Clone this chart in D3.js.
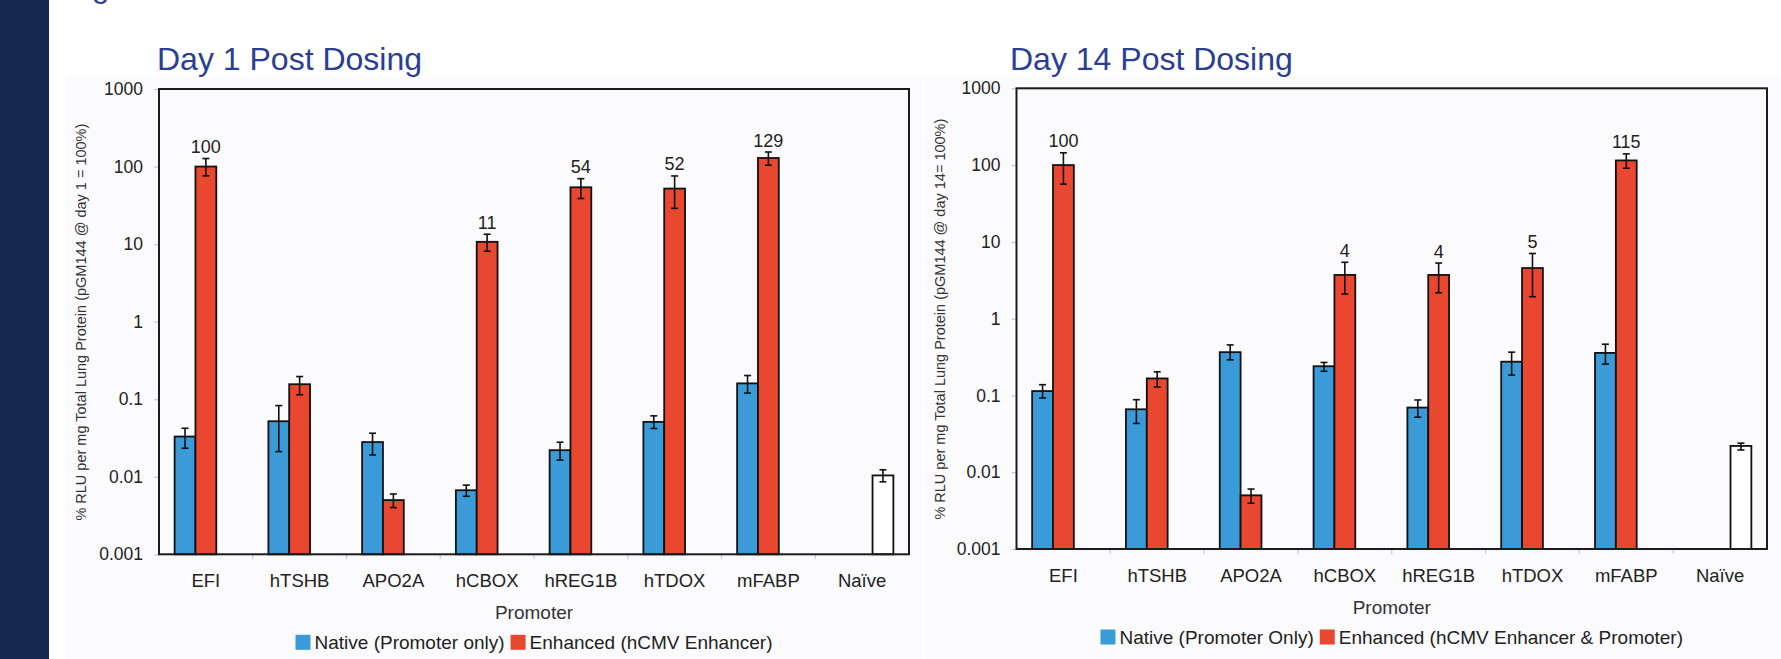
<!DOCTYPE html>
<html><head><meta charset="utf-8">
<script src="https://cdn.jsdelivr.net/npm/d3@7"></script>
<style>
body{margin:0;background:#fff;}
svg{display:block;font-family:"Liberation Sans",Arial,Helvetica,sans-serif;}
</style>
</head><body>
<svg id="c" width="1781" height="659"></svg>
<script>
// ---------- data ----------
const categories = ["EFI","hTSHB","APO2A","hCBOX","hREG1B","hTDOX","mFABP","Naïve"];
const yTickValues = [0.001,0.01,0.1,1,10,100,1000];
const yTickLabels = ["0.001","0.01","0.1","1","10","100","1000"];

// Day 1
const day1Native     = [0.033, 0.052, 0.028, 0.0067, 0.022, 0.051, 0.16, null];
const day1NativeLo   = [0.0233, 0.0211, 0.0191, 0.0056, 0.0164, 0.0419, 0.120, null];
const day1NativeHi   = [0.0422, 0.0827, 0.0364, 0.0078, 0.0279, 0.061, 0.202, null];
const day1Enhanced   = [100, 0.156, 0.005, 10.7, 54, 52, 129, null];
const day1EnhancedLo = [75.8, 0.114, 0.0040, 8.1, 38.7, 28.9, 104, null];
const day1EnhancedHi = [126.9, 0.196, 0.0060, 13.4, 69.8, 75.6, 154, null];
const day1Naive      = [null, null, null, null, null, null, null, 0.0104];
const day1NaiveLo    = [null, null, null, null, null, null, null, 0.0086];
const day1NaiveHi    = [null, null, null, null, null, null, null, 0.0123];
const day1Labels     = ["100", null, null, "11", "54", "52", "129", null];

// Day 14
const day14Native     = [0.114, 0.066, 0.366, 0.240, 0.0695, 0.275, 0.358, null];
const day14NativeLo   = [0.0925, 0.0432, 0.291, 0.2065, 0.0521, 0.184, 0.256, null];
const day14NativeHi   = [0.138, 0.088, 0.455, 0.269, 0.0873, 0.366, 0.465, null];
const day14Enhanced   = [100, 0.1665, 0.005, 3.71, 3.71, 4.56, 115, null];
const day14EnhancedLo = [56.5, 0.1286, 0.00395, 2.09, 2.17, 1.93, 91, null];
const day14EnhancedHi = [144.6, 0.203, 0.00604, 5.42, 5.30, 7.06, 140, null];
const day14Naive      = [null, null, null, null, null, null, null, 0.022];
const day14NaiveLo    = [null, null, null, null, null, null, null, 0.0195];
const day14NaiveHi    = [null, null, null, null, null, null, null, 0.0239];
const day14Labels     = ["100", null, null, "4", "4", "5", "115", null];

const titles = ["Day 1 Post Dosing", "Day 14 Post Dosing"];
const yTitles = ["% RLU per mg Total Lung Protein (pGM144 @ day 1 = 100%)",
                 "% RLU per mg Total Lung Protein (pGM144 @ day 14= 100%)"];
const xTitle = "Promoter";
const legendNames = [["Native (Promoter only)", "Enhanced (hCMV Enhancer)"],
                     ["Native (Promoter Only)", "Enhanced (hCMV Enhancer & Promoter)"]];

// ---------- styling ----------
const BLUE = "#3a9bd8", RED = "#e9472f", TITLE = "#2a3e94";
const svg = d3.select("#c");

// left dark band
svg.append("rect").attr("x",0).attr("y",0).attr("width",49).attr("height",659).attr("fill","#15284f");
// cut-off heading glyph at the top
svg.append("text").attr("x",92).attr("y",-3).attr("font-size",31).attr("fill",TITLE).text("g");

// faint chart-area backgrounds
svg.append("rect").attr("x",66).attr("y",76).attr("width",856).attr("height",583).attr("fill","#fbfbfd");
svg.append("rect").attr("x",924).attr("y",76).attr("width",857).attr("height",583).attr("fill","#fbfbfd");

const panels = [
  {x0:159, x1:909, y0:89, y1:554.3, titleX:157, yTitleX:81,
   native:day1Native, nLo:day1NativeLo, nHi:day1NativeHi,
   enh:day1Enhanced, eLo:day1EnhancedLo, eHi:day1EnhancedHi,
   naive:day1Naive, vLo:day1NaiveLo, vHi:day1NaiveHi, labels:day1Labels},
  {x0:1016.5, x1:1767, y0:88.3, y1:549, titleX:1010, yTitleX:939.5,
   native:day14Native, nLo:day14NativeLo, nHi:day14NativeHi,
   enh:day14Enhanced, eLo:day14EnhancedLo, eHi:day14EnhancedHi,
   naive:day14Naive, vLo:day14NaiveLo, vHi:day14NaiveHi, labels:day14Labels}
];

panels.forEach((p, pi) => {
  const g = svg.append("g");
  const x = d3.scaleBand().domain(categories).range([p.x0, p.x1]).paddingInner(0).paddingOuter(0);
  const xs = d3.scaleBand().domain([0,1,2]).range([0, x.bandwidth()]).paddingInner(0).paddingOuter(0.75);
  const y = d3.scaleLog().domain([0.001, 1000]).range([p.y1, p.y0]);

  // title
  g.append("text").attr("x", p.titleX).attr("y", 69.5).attr("font-size", 32)
    .attr("fill", TITLE).text(titles[pi]);

  // y axis ticks + labels
  const yAxis = d3.axisLeft(y).tickValues(yTickValues)
    .tickFormat((d,i) => yTickLabels[i]).tickSize(5).tickPadding(11);
  const ya = g.append("g").attr("transform", `translate(${p.x0},0)`).call(yAxis);
  ya.select(".domain").remove();
  ya.selectAll(".tick line").attr("stroke", "#b9cde0").attr("stroke-width", 1.2);
  ya.selectAll(".tick text").attr("font-size", 17.5).attr("fill", "#222")
    .attr("font-family", '"Liberation Sans",Arial,sans-serif');

  // x axis labels
  const xAxis = d3.axisBottom(x).tickSize(0).tickPadding(20);
  const xa = g.append("g").attr("transform", `translate(0,${p.y1})`).call(xAxis);
  xa.select(".domain").remove();
  xa.selectAll(".tick text").attr("font-size", 18.5).attr("fill", "#222")
    .attr("font-family", '"Liberation Sans",Arial,sans-serif');

  // category boundary ticks
  g.selectAll(".bt").data(categories.slice(1)).enter().append("line")
    .attr("x1", d => x(d)).attr("x2", d => x(d))
    .attr("y1", p.y1).attr("y2", p.y1 + 5)
    .attr("stroke", "#b9cde0").attr("stroke-width", 1.2);

  // bars
  const series = [
    {vals:p.native, lo:p.nLo, hi:p.nHi, fill:BLUE},
    {vals:p.enh, lo:p.eLo, hi:p.eHi, fill:RED},
    {vals:p.naive, lo:p.vLo, hi:p.vHi, fill:"#ffffff"}
  ];
  series.forEach((s, si) => {
    const data = categories.map((c, i) => ({c, v:s.vals[i], lo:s.lo[i], hi:s.hi[i]})).filter(d => d.v != null);
    g.selectAll(null).data(data).enter().append("rect")
      .attr("x", d => x(d.c) + xs(si)).attr("width", xs.bandwidth())
      .attr("y", d => y(d.v)).attr("height", d => y(0.001) - y(d.v))
      .attr("fill", s.fill).attr("stroke", "#111").attr("stroke-width", 1.8);
    const eb = g.selectAll(null).data(data).enter().append("g")
      .attr("stroke", "#111").attr("stroke-width", 1.6);
    const cx = d => x(d.c) + xs(si) + xs.bandwidth()/2;
    eb.append("line").attr("x1", cx).attr("x2", cx).attr("y1", d => y(d.lo)).attr("y2", d => y(d.hi));
    eb.append("line").attr("x1", d => cx(d)-3.5).attr("x2", d => cx(d)+3.5).attr("y1", d => y(d.hi)).attr("y2", d => y(d.hi));
    eb.append("line").attr("x1", d => cx(d)-3.5).attr("x2", d => cx(d)+3.5).attr("y1", d => y(d.lo)).attr("y2", d => y(d.lo));
  });

  // value labels above enhanced bars
  const lab = categories.map((c,i) => ({c, t:p.labels[i], hi:p.eHi[i]})).filter(d => d.t);
  g.selectAll(null).data(lab).enter().append("text")
    .attr("x", d => x(d.c) + xs(1) + xs.bandwidth()/2)
    .attr("y", d => y(d.hi) - 5.5)
    .attr("text-anchor", "middle").attr("font-size", 18).attr("fill", "#222").text(d => d.t);

  // plot frame
  g.append("rect").attr("x", p.x0).attr("y", p.y0).attr("width", p.x1 - p.x0).attr("height", p.y1 - p.y0)
    .attr("fill", "none").attr("stroke", "#1c1c1c").attr("stroke-width", 2);

  // y title
  const yc = (p.y0 + p.y1) / 2 + 0.5;
  g.append("text").attr("transform", `translate(${p.yTitleX + 5},${yc}) rotate(-90)`)
    .attr("text-anchor", "middle").attr("font-size", 14.5).attr("fill", "#333").text(yTitles[pi]);

  // x title
  const xc = (p.x0 + p.x1) / 2;
  g.append("text").attr("x", xc).attr("y", p.y1 + 65).attr("text-anchor", "middle")
    .attr("font-size", 19).attr("fill", "#333").text(xTitle);

  // legend
  const lg = g.append("g");
  const sq = 15, gap1 = 4, gap2 = 6;
  let cur = 0;
  const items = [{name:legendNames[pi][0], fill:BLUE}, {name:legendNames[pi][1], fill:RED}];
  items.forEach((it, k) => {
    lg.append("rect").attr("x", cur).attr("y", -sq/2).attr("width", sq).attr("height", sq).attr("fill", it.fill);
    cur += sq + gap1;
    const t = lg.append("text").attr("x", cur).attr("y", 0).attr("dy", "0.35em")
      .attr("font-size", 19).attr("fill", "#222").text(it.name);
    cur += t.node().getComputedTextLength() + (k === 0 ? gap2 : 0);
  });
  lg.attr("transform", `translate(${xc - cur/2},${p.y1 + 88 - (pi ? 0 : 0)})`);
});
</script>
</body></html>
